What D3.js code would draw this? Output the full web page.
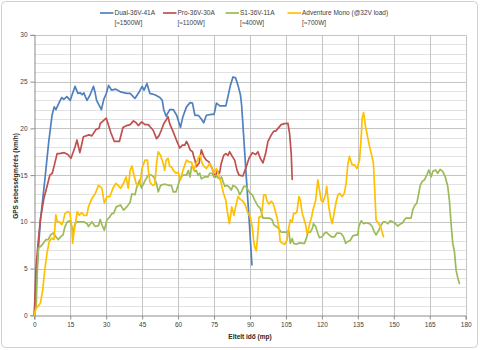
<!DOCTYPE html>
<html><head><meta charset="utf-8">
<script src="https://cdn.jsdelivr.net/npm/d3@7"></script>
<style>
html,body{margin:0;padding:0;background:#fff;}
text{font-family:"Liberation Sans",Arial,sans-serif;}
</style></head>
<body><svg id="c" width="480" height="350"></svg>
<script>
// ---- data (time in seconds, speed in km/h) ----
const seriesNames = ["Dual-36V-41A","Pro-36V-30A","S1-36V-11A","Adventure Mono (@32V load)"];
const seriesPower = ["[≈1500W]","[≈1100W]","[≈400W]","[≈700W]"];
const seriesColors = ["#4F81BD","#C0504D","#9BBB59","#FFC000"];
const xTicks = [0,15,30,45,60,75,90,105,120,135,150,165,180];
const yTicks = [0,5,10,15,20,25,30];

const dualData = [[0,0],[1,4.5],[2.5,10],[4.4,14.5],[6,18.5],[7.4,21.4],[8.3,22.3],[9,22],[10.8,23],[11.5,23.3],[12.3,23.1],[13.6,23.4],[15,23],[17,24.5],[18.2,23.75],[19.2,23.8],[20,23.6],[20.7,23.8],[21.3,23.4],[22,23],[23.3,23.6],[24.7,24.5],[25.3,23.9],[26,23],[28,22],[29,23.1],[30,23.7],[31,24.6],[32.2,24.1],[34,24.2],[36,23.9],[38.6,23.75],[40,23.75],[42,23.2],[44,24],[45,24.5],[45.8,24.1],[47,24.8],[48.2,23.75],[50.3,23.6],[52.4,23.3],[53.4,23],[54,22],[55,21.3],[56.5,22],[58,22],[59.4,21.4],[61,20.1],[62,21.25],[63.5,22.3],[65,22.75],[66,22.7],[67,21.4],[68.4,21.4],[69.7,21],[70.7,20.6],[71.8,21.4],[73.9,21.5],[75,21.5],[76,22.7],[77.4,22.4],[79.9,22.4],[80.8,23.4],[81.8,24.6],[82.9,25.5],[84,25.4],[85,24.6],[86,23.6],[86.5,22.5],[87.4,19],[88.4,15],[89.7,10],[90.8,5.4]];

const proData = [[0,0],[0.7,5],[1.5,7.5],[2.5,10.2],[4,12.5],[5.5,14],[6.5,15],[7.5,15.2],[8.5,16.2],[9.5,17.3],[10.4,17.3],[12.5,17.4],[14,17.2],[15.3,16.8],[17,18],[17.8,18.75],[19,17.4],[20.5,19.1],[22.8,19.3],[24,19.2],[25.8,19.9],[27,20],[27.5,20.5],[30,21.1],[32,19.5],[33.4,18.6],[35.5,18.6],[37,20.1],[38.5,20.3],[40,20.4],[41.4,20.8],[42.5,20.6],[43.4,20.3],[44.8,20.7],[46.2,20.4],[47.6,20.4],[48.2,20.2],[49.6,19.8],[51,18.9],[52,19.2],[53,19.8],[54,20.5],[55,20.9],[55.8,21.25],[56.5,20.5],[58,19.6],[59.3,18.75],[60.7,17.9],[61.8,18.2],[62.8,18.2],[63.5,18.6],[64.3,18.2],[65,17.7],[66,17.5],[67,16.6],[67.6,15.9],[68.8,16.3],[69.7,17.7],[70.7,17],[71.8,16.6],[72.9,16.4],[73.9,15.9],[74.9,15.2],[75.7,14.8],[76.2,15.5],[77.3,15.2],[78,16.25],[79,17.1],[79.9,17.3],[80.8,17.1],[81.5,17.5],[82.6,17],[83.6,16.6],[84.6,15.5],[85.4,15],[87,14.9],[88.2,15.7],[89.6,16.8],[91,17.4],[92.4,17.2],[93.3,17.5],[94.3,16.8],[95.4,16.3],[96.5,17.3],[97.5,18.6],[98.9,19.3],[99.9,19.7],[100.7,19.7],[101.7,20],[103,20.4],[104.4,20.5],[105.8,20.55],[106.5,19.5],[107.2,17.3],[107.6,14.55]];

const s1Data = [[0,0],[0.8,1],[1.3,5],[1.7,7.2],[2.6,7.35],[3.75,7.7],[4.9,8.1],[5.8,8.1],[6.8,8.6],[7.9,8.8],[9,8.4],[10,8.1],[11,8.4],[12,8.6],[12.8,9.5],[13.75,10],[14.9,10.1],[15.6,9.5],[16.25,8.8],[16.9,9.7],[17.6,10],[19,10],[20.7,10],[22,9.8],[22.6,9.5],[24,10],[25.4,9.5],[26.8,9.6],[27.5,10.25],[28.2,9.7],[29.2,9.1],[30.3,10.2],[31.4,10.5],[32.4,10.9],[33.1,10.9],[34.2,11.6],[36,11.8],[37.2,11.25],[38.6,11.6],[40,12.1],[40.7,13],[42,12.9],[42.8,13.75],[44,14.5],[44.7,13.6],[46,14.3],[47.5,15],[48.9,15],[49.9,14.8],[51,14.1],[51.7,13.2],[52.7,13.9],[53.75,14],[55,14],[56.2,13.9],[57.2,13.9],[58,13.2],[59.1,13.2],[60,13.9],[60.7,14.5],[61.4,14.8],[62,15],[63.5,15],[64.3,15.5],[65,14.8],[65.6,15.9],[66.25,15.9],[67,15.4],[67.6,15.5],[68.3,15],[69,15.2],[69.7,14.6],[71,14.8],[72.5,14.8],[73.2,15.2],[74.2,15.2],[74.9,14.8],[75.7,15],[76.7,14.7],[77.4,14.6],[78.1,14.8],[78.75,14.3],[79.5,13.8],[80.4,13.9],[81.2,13.75],[82.2,13.4],[82.9,13.9],[84,13.75],[85,13.4],[85.7,12.9],[86.4,13.2],[87.4,13.8],[88.2,13.8],[89.2,13.4],[89.9,13.1],[91,12.9],[92,12.3],[93.3,11.7],[94.3,11.45],[95.4,10.4],[96.5,10.4],[98.2,10.4],[99.3,10.2],[99.9,9.7],[101,9.5],[102,9.3],[103,8.9],[104.4,8.9],[105.4,8.9],[106.2,9.05],[106.8,7.7],[107.6,8.2],[108.2,7.7],[109.3,7.6],[110.7,7.75],[112,7.7],[112.7,7.7],[113.5,8.2],[114.2,8.9],[115.2,8.9],[116,9.3],[116.5,9.8],[117.4,9.5],[118.3,8.75],[119,8.3],[120.1,8.4],[121,8.75],[121.8,8.9],[123,8.6],[124,8.4],[125.3,8.4],[126.25,8.8],[127.1,8.8],[128,8.75],[129,8.4],[129.9,7.7],[130.8,7.9],[131.8,8],[132.9,8.5],[134.3,8.6],[135,8.6],[135.4,9.5],[136.4,10.1],[137.4,9.8],[138.5,9.9],[139.9,9.8],[141,9.5],[141.9,8.9],[142.6,8.6],[143.75,9.1],[144.7,9.65],[145.7,10],[146.5,10],[147.5,9.8],[148.5,10.1],[149.6,10],[150.7,9.8],[151.7,9.55],[152.6,9.75],[153.75,9.9],[154.4,10.2],[155.1,10.4],[156.5,10.4],[157.2,10.4],[157.9,11.25],[158.6,11.7],[159.6,12],[160.4,13.05],[161,13.9],[161.8,14.3],[162.8,14.5],[163.75,15],[164.6,15.55],[165.6,14.8],[166.25,15.4],[167.4,15.55],[168.3,15.2],[169.3,15.6],[170.4,15.4],[171.5,14.8],[172.5,13.8],[173.2,12.3],[173.9,9.8],[174.6,7.7],[175.3,6.8],[176,4.8],[176.7,4],[177.4,3.4]];

const advData = [[0,0],[0.7,0.75],[1.7,1],[2.6,1.35],[3.5,2.7],[4.4,4.9],[5.4,6.8],[6.25,7.9],[7.2,8.25],[8.2,8.1],[9,10.75],[9.6,10],[10.5,10],[11.4,9.7],[12,10],[12.8,10.9],[14.2,11.1],[14.9,10.9],[15.6,9.5],[16,7.7],[16.5,8.8],[17.4,10.2],[17.9,11.1],[18.8,10.7],[19.8,11],[20.7,10.7],[21.9,10.7],[22.6,11.6],[24,12.5],[25.4,13],[26.8,13.9],[28.2,13.6],[29.2,12],[30.3,12.7],[31.6,12.7],[32.8,13.6],[34,14.1],[35,13.9],[36,13.6],[37.2,14.1],[38.3,14.8],[39.2,13.6],[40,15.5],[40.7,16],[41.4,15.2],[42.5,14.1],[43.4,13.9],[44.2,14.1],[44.9,15.7],[46.2,16.6],[47.2,16.6],[47.6,15.5],[48.2,14.3],[49.3,13.9],[50.3,14],[51,16.25],[51.7,17.5],[52.7,17.1],[53.75,16.25],[54.4,15.5],[55,16.6],[55.8,16.8],[56.5,15.9],[57.2,15.9],[58,15.5],[59.1,15.2],[60,15.3],[61,14.5],[62,15.5],[63.5,16.6],[64.6,16.4],[65.6,16.4],[66.5,15.5],[67.6,16.3],[68.75,17],[69.3,17.1],[70,16.25],[71,15.9],[71.8,15.7],[73.2,16.25],[73.9,15.9],[74.9,15.2],[76,15.7],[77,15],[78,14.1],[79,13],[79.9,12.3],[80.6,11],[81.4,9.8],[82.4,11.6],[83.3,10.7],[84,11.6],[85,12.7],[86,12.4],[87.1,12.2],[88,11.8],[89.2,10.9],[90.1,10.55],[91,9.3],[91.5,8],[92,7.3],[92.6,6.9],[93.3,8.8],[93.75,10.5],[94.7,10.55],[95.4,12],[95.7,12.9],[96.5,12.9],[97,12.3],[97.9,11.9],[98.9,12.2],[99.6,12],[100.3,11.4],[101.2,10.55],[102,9.5],[102.6,7.9],[103.5,7.7],[104.4,7.6],[105.4,8],[106,9.1],[106.8,10.2],[107.6,10],[108.2,10.9],[109,10.9],[109.6,11.1],[110.4,12.7],[111,12.3],[111.8,10.9],[112.4,10.4],[113.2,9.7],[113.75,8.8],[114.2,8.9],[114.9,9.8],[115.6,10.4],[116.25,11.25],[117.4,12.3],[118.3,14.5],[119,13.4],[119.7,12.3],[120.4,12.1],[121.5,12.9],[122,13.8],[122.9,11.6],[123.5,10.6],[124.3,9.8],[125.3,11.25],[126,12.2],[126.7,12.9],[127.4,13.05],[128.5,12.7],[129.4,13.1],[130.1,14.1],[130.8,16.1],[131.5,17],[132.6,16.1],[133.6,16.1],[134.6,15.7],[135.7,16.6],[136.4,19.1],[136.8,21.1],[137.4,21.7],[138.2,20.2],[138.75,19.5],[139.6,18.4],[140.6,17.3],[141.5,16.3],[142.1,13.05],[142.6,10.2],[143.75,9.8],[144.7,9.3],[145.7,8.4]];

const allSeries = [dualData, proData, s1Data, advData];

// ---- drawing ----
const svg = d3.select("#c");
svg.append("rect").attr("x",1.5).attr("y",1.5).attr("width",476).attr("height",346)
  .attr("rx",4).attr("fill","#fff").attr("stroke","#d0d0d0").attr("stroke-width",1);

const x = d3.scaleLinear().domain([0,180]).range([34.3,465.7]);
const y = d3.scaleLinear().domain([0,30]).range([315.3,34.9]);

// horizontal gridlines every 1 unit
const minor = d3.range(1,31);
svg.append("g").selectAll("line").data(minor).join("line")
  .attr("x1",x(0)).attr("x2",x(180))
  .attr("y1",d=>Math.round(y(d))+0.5).attr("y2",d=>Math.round(y(d))+0.5)
  .attr("stroke",d=>d%5===0?"#c4c4c4":"#e2e2e2").attr("stroke-width",1);
// vertical gridlines
svg.append("g").selectAll("line").data(xTicks.slice(1)).join("line")
  .attr("x1",d=>Math.round(x(d))+0.5).attr("x2",d=>Math.round(x(d))+0.5)
  .attr("y1",y(30)).attr("y2",y(0))
  .attr("stroke","#c4c4c4").attr("stroke-width",1);

// axes
const xAxis = d3.axisBottom(x).tickValues(xTicks).tickSize(4).tickPadding(3);
const yAxis = d3.axisLeft(y).tickValues(yTicks).tickSize(4).tickPadding(3);
const gx = svg.append("g").attr("transform",`translate(0,${Math.round(y(0))+0.5})`).call(xAxis);
const gy = svg.append("g").attr("transform",`translate(${Math.round(x(0))+0.5},0)`).call(yAxis);
[gx,gy].forEach(g=>{
  g.select(".domain").attr("stroke","#8c8c8c");
  g.selectAll(".tick line").attr("stroke","#8c8c8c");
  g.selectAll(".tick text").attr("fill","#404040").style("font-size","6.5px")
   .style("font-family",'"Liberation Sans",Arial,sans-serif');
});

// lines
const line = d3.line().x(d=>x(d[0])).y(d=>y(d[1])).curve(d3.curveLinear);
svg.append("g").selectAll("path").data(allSeries).join("path")
  .attr("d",line).attr("fill","none")
  .attr("stroke",(d,i)=>seriesColors[i]).attr("stroke-width",1.7)
  .attr("stroke-linejoin","round").attr("stroke-linecap","round");

// axis titles
svg.append("text").attr("x",250).attr("y",338.5).attr("text-anchor","middle")
  .style("font-size","6.5px").style("font-weight","bold").attr("fill","#262626")
  .text("Eltelt idő (mp)");
svg.append("text").attr("transform","translate(17.5,176) rotate(-90)").attr("text-anchor","middle")
  .style("font-size","6.5px").style("font-weight","bold").attr("fill","#262626")
  .text("GPS sebességmérés (km/h)");

// legend
const legX = [100,163,225.5,287.5];
const leg = svg.append("g").selectAll("g").data(seriesNames).join("g")
  .attr("transform",(d,i)=>`translate(${legX[i]},0)`);
leg.append("line").attr("x1",0).attr("x2",13.5).attr("y1",13).attr("y2",13)
  .attr("stroke",(d,i)=>seriesColors[i]).attr("stroke-width",1.7);
leg.append("text").attr("x",14.5).attr("y",15.3).style("font-size","6.5px").attr("fill","#404040").text(d=>d);
leg.append("text").attr("x",14.5).attr("y",24.8).style("font-size","6.5px").attr("fill","#404040").text((d,i)=>seriesPower[i]);
</script></body></html>
